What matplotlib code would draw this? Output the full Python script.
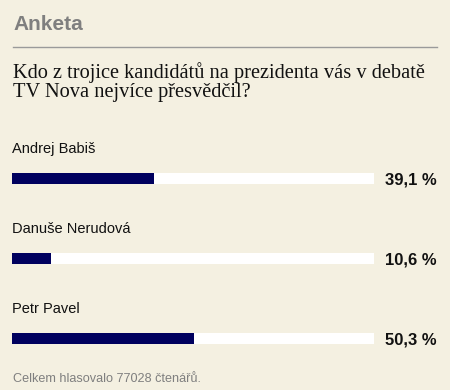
"""Poll result: who won the TV Nova debate."""

import matplotlib.pyplot as plt

W, H = 450, 390  # px, figure at dpi=100

candidates = ["Andrej Babiš", "Danuše Nerudová", "Petr Pavel"]
shares = [39.1, 10.6, 50.3]  # percent
total_votes = 77028

BG = "#f4f0e1"
NAVY = "#00005e"
GREY = "#7f7f7f"


def px(x, y):
    # pixel position (from top-left) -> figure fraction
    return x / W, 1 - y / H


fig = plt.figure(figsize=(W / 100, H / 100), dpi=100, facecolor=BG)

# header
fig.text(*px(13, 30), "Anketa", family="Liberation Sans", weight="bold",
         size=15, color=GREY, va="baseline")
fig.add_artist(plt.Line2D([13 / W, 437 / W], [1 - 47 / H] * 2,
                          color="#9a9a9a", lw=1))
fig.text(*px(13, 78), "Kdo z trojice kandidátů na prezidenta vás v debatě",
         family="Liberation Serif", size=14.7, color="#111111", va="baseline")
fig.text(*px(13, 97.5), "TV Nova nejvíce přesvědčil?",
         family="Liberation Serif", size=14.7, color="#111111", va="baseline")

# bars: one unit on y = 80 px
left, right = 12.3, 374
top = 178.5 - 40
ax = fig.add_axes([left / W, 1 - (top + 240) / H, (right - left) / W, 240 / H])
ax.set_facecolor(BG)
ypos = list(range(len(candidates)))
ax.barh(ypos, [100] * len(ypos), height=0.134, color="white")
ax.barh(ypos, shares, height=0.134, color=NAVY)
ax.set_xlim(0, 100)
ax.set_ylim(2.5, -0.5)
ax.axis("off")

tr = ax.get_yaxis_transform()
for y, name, s in zip(ypos, candidates, shares):
    ax.text(0, y - 0.32, name, transform=tr, family="Liberation Sans",
            size=10.5, color="#111111", va="baseline", clip_on=False)
    label = f"{s:.1f} %".replace(".", ",")
    ax.text((437 - left) / (right - left), y + 0.069, label, transform=tr,
            family="Liberation Sans", weight="bold", size=12,
            color="#111111", ha="right", va="baseline", clip_on=False)

fig.text(*px(13, 382.5), f"Celkem hlasovalo {total_votes} čtenářů.",
         family="Liberation Sans", size=9.1, color=GREY, va="baseline")

fig.savefig("out.png", dpi=100, facecolor=BG)
